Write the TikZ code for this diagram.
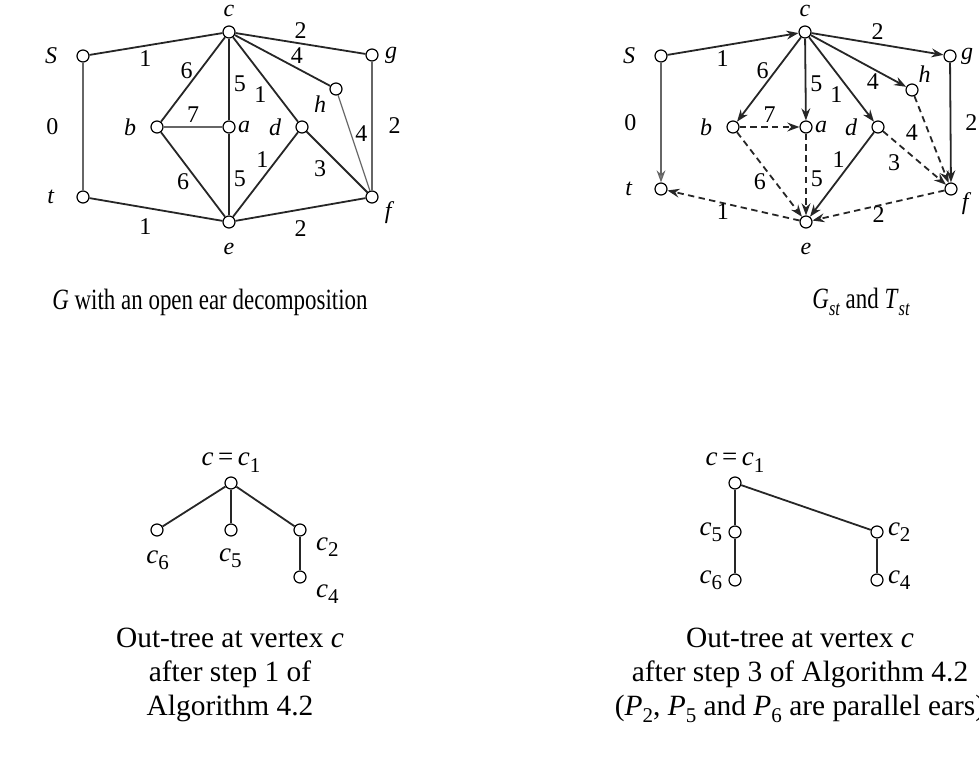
\documentclass[tikz,border=0pt]{standalone}
\usepackage{fontspec}
\setmainfont{Liberation Serif}
\usetikzlibrary{arrows.meta, positioning}

\newcommand{\sub}[1]{\raisebox{-0.5ex}{\fontsize{10.5}{11}\selectfont\upshape #1}}
\newcommand{\isub}[1]{\raisebox{-0.5ex}{\fontsize{10.5}{11}\selectfont\itshape #1}}

\begin{document}
\begin{tikzpicture}[
    x=0.5pt, y=-0.5pt,
    vertex/.style={circle, draw=black, fill=white, line width=0.6pt, inner sep=0pt, minimum size=6pt},
    gline/.style={line width=0.9pt, draw=black!85},
    gthin/.style={line width=0.6pt, draw=black!60},
    garrow/.style={gline, -{Stealth[length=6pt, width=4.4pt, fill=black!50]}},
    gdash/.style={garrow, dash pattern=on 3.2pt off 2.2pt},
    lbl/.style={font=\fontsize{12}{13}\selectfont, inner sep=2pt},
    vlbl/.style={font=\fontsize{12}{13}\selectfont\itshape, inner sep=1pt},
    tlbl/.style={font=\fontsize{13.5}{15}\selectfont\itshape, inner sep=1pt},
    caption/.style={font=\fontsize{14.7}{17}\selectfont, align=center},
    tcaption/.style={font=\fontsize{14.7}{17}\selectfont, align=center}
]
\clip (0,0) rectangle (979,769);

% G with an open ear decomposition
\node[vertex, label={[vlbl, label distance=3pt]above:c}] (c) at (229,32) {};
\node[vertex, label={[vlbl, label distance=8.5pt]left:S}] (s) at (83,56) {};
\node[vertex, label={[vlbl, label distance=2pt]right:g}] (g) at (372,55) {};
\node[vertex, label={[vlbl, label distance=1pt]-150:h}] (h) at (336,89) {};
\node[vertex, label={[vlbl, label distance=6pt]left:b}] (b) at (157,127) {};
\node[vertex, label={[vlbl]right:a}] (a) at (229,127) {};
\node[vertex, label={[vlbl, label distance=6pt]left:d}] (d) at (302,127) {};
\node[vertex, label={[vlbl, label distance=10pt]left:t}] (t) at (83,197) {};
\node[vertex, label={[vlbl, label distance=6pt]below:e}] (e) at (229,222) {};
\node[vertex, label={[vlbl, label distance=2pt]-10:f}] (f) at (372,197) {};

\draw[gline] (s) -- (c) node[lbl, pos=0.42, below] {1};
\draw[gline] (c) -- (g) node[lbl, midway, above] {2};
\draw[gline] (c) -- (h) node[lbl, pos=0.65, above] {4};
\draw[gline] (c) -- (b) node[lbl, pos=0.4, left, xshift=-1pt] {6};
\draw[gline] (c) -- (a) node[lbl, pos=0.55, right] {5};
\draw[gline] (c) -- (d) node[lbl, pos=0.68, left, xshift=-3pt] {1};
\draw[gthin] (b) -- (a) node[lbl, midway, above] {7};
\draw[gthin] (h) -- (f) node[lbl, pos=0.4, right] {4};
\draw[gthin] (s) -- (t) node[lbl, midway, left=10pt] {0};
\draw[gthin] (g) -- (f) node[lbl, midway, right=6pt] {2};
\draw[gline] (d) -- (e) node[lbl, pos=0.32, left, xshift=-2pt] {1};
\draw[gline] (d) -- (f) node[lbl, pos=0.4, below left] {3};
\draw[gline] (b) -- (e) node[lbl, pos=0.58, left, xshift=-2pt] {6};
\draw[gline] (a) -- (e) node[lbl, pos=0.55, right] {5};
\draw[gline] (t) -- (e) node[lbl, pos=0.42, below=3pt] {1};
\draw[gline] (e) -- (f) node[lbl, midway, below=3pt] {2};

% G_st and T_st
\node[vertex, label={[vlbl, label distance=3pt]above:c}] (cst) at (805,32) {};
\node[vertex, label={[vlbl, label distance=8.5pt]left:S}] (sst) at (661,56) {};
\node[vertex, label={[vlbl, label distance=1pt]right:g}] (gst) at (950,56) {};
\node[vertex, label={[vlbl, label distance=0pt]50:h}] (hst) at (912,90) {};
\node[vertex, label={[vlbl, label distance=6pt]left:b}] (bst) at (733,127) {};
\node[vertex, label={[vlbl]right:a}] (ast) at (806,127) {};
\node[vertex, label={[vlbl, label distance=6pt]left:d}] (dst) at (878,127) {};
\node[vertex, label={[vlbl, label distance=10pt]left:t}] (tst) at (661,189) {};
\node[vertex, label={[vlbl, label distance=6pt]below:e}] (est) at (806,222) {};
\node[vertex, label={[vlbl, label distance=1pt]-10:f}] (fst) at (951,189) {};

\draw[garrow] (sst) -- (cst) node[lbl, pos=0.42, below] {1};
\draw[garrow] (cst) -- (gst) node[lbl, midway, above] {2};
\draw[garrow] (cst) -- (hst) node[lbl, pos=0.65, below] {4};
\draw[garrow] (cst) -- (bst) node[lbl, pos=0.4, left, xshift=-1pt] {6};
\draw[garrow] (cst) -- (ast) node[lbl, pos=0.55, right] {5};
\draw[garrow] (cst) -- (dst) node[lbl, pos=0.68, left, xshift=-3pt] {1};
\draw[gdash] (bst) -- (ast) node[lbl, midway, above] {7};
\draw[gdash] (hst) -- (fst) node[lbl, pos=0.42, left, xshift=-3pt] {4};
\draw[garrow, gthin] (sst) -- (tst) node[lbl, midway, left=10pt] {0};
\draw[garrow] (gst) -- (fst) node[lbl, midway, right=5pt] {2};
\draw[garrow] (dst) -- (est) node[lbl, pos=0.32, left, xshift=-2pt] {1};
\draw[gdash] (dst) -- (fst) node[lbl, pos=0.35, below left] {3};
\draw[gdash] (bst) -- (est) node[lbl, pos=0.58, left, xshift=-2pt] {6};
\draw[gdash] (ast) -- (est) node[lbl, pos=0.55, right] {5};
\draw[gdash] (est) -- (tst) node[lbl, pos=0.58, below, inner sep=0pt] {1};
\draw[gdash] (fst) -- (est) node[lbl, midway, below, inner sep=0pt] {2};

% out-tree after step 1
\node[vertex, label={[tlbl, label distance=1pt]above:c\,\upshape=\,\itshape c\sub{1}}] (pc1) at (231,483) {};
\node[vertex, label={[tlbl, label distance=6pt]-88:c\sub{6}}] (pc6) at (157,530) {};
\node[vertex, label={[tlbl, label distance=5pt]-92:c\sub{5}}] (pc5) at (231,530) {};
\node[vertex, label={[tlbl, label distance=4pt]-20:c\sub{2}}] (pc2) at (300,530) {};
\node[vertex, label={[tlbl, label distance=4pt]-20:c\sub{4}}] (pc4) at (300,577) {};
\draw[gline] (pc1) -- (pc6);
\draw[gline] (pc1) -- (pc5);
\draw[gline] (pc1) -- (pc2);
\draw[gline] (pc2) -- (pc4);

% out-tree after step 3
\node[vertex, label={[tlbl, label distance=1pt]above:c\,\upshape=\,\itshape c\sub{1}}] (qc1) at (735,483) {};
\node[vertex, label={[tlbl, label distance=2pt]left:c\sub{5}}] (qc5) at (735,532) {};
\node[vertex, label={[tlbl, label distance=2pt]left:c\sub{6}}] (qc6) at (735,580) {};
\node[vertex, label={[tlbl, label distance=1pt]right:c\sub{2}}] (qc2) at (877,532) {};
\node[vertex, label={[tlbl, label distance=1pt]right:c\sub{4}}] (qc4) at (877,580) {};
\draw[gline] (qc1) -- (qc5);
\draw[gline] (qc5) -- (qc6);
\draw[gline] (qc1) -- (qc2);
\draw[gline] (qc2) -- (qc4);

% captions
\node[caption] (capg) at (210,302) {\scalebox{0.78}[1]{\textit{G} with an open ear decomposition}};
\node[caption] (capst) at (861,302) {\scalebox{0.78}[1]{\textit{G}\isub{st} and \textit{T}\isub{st}}};
\node[tcaption, anchor=north] (capa) at (230,621) {Out-tree at vertex \textit{c}\\after step 1 of\\Algorithm 4.2};
\node[tcaption, anchor=north] (capb) at (800,621) {Out-tree at vertex \textit{c}\\after step 3 of Algorithm 4.2\\(\textit{P}\sub{2}, \textit{P}\sub{5} and \textit{P}\sub{6} are parallel ears)};

\end{tikzpicture}
\end{document}
